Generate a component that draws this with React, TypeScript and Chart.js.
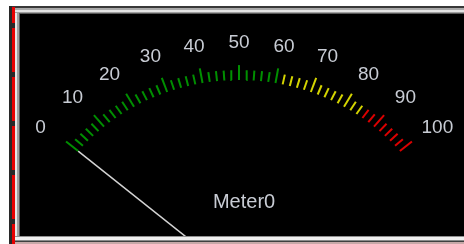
import React, { useEffect, useRef } from 'react';
import { Chart, registerables } from 'chart.js';

Chart.register(...registerables);

// ---- data ----
const scaleMin = 0;
const scaleMax = 100;
const minorStep = 2;
const majorStep = 10;
const labelValues = [0, 10, 20, 30, 40, 50, 60, 70, 80, 90, 100];
const tickLabels = ['0', '10', '20', '30', '40', '50', '60', '70', '80', '90', '100'];
const zoneEnds = [60, 85, 100];
const zoneColors = ['#008f00', '#d4d400', '#dc0000'];
const needleValue = 0;
const meterName = 'Meter0';

// ---- geometry (data space: unit = inner tick radius) ----
const SWEEP_DEG = 100;
const MINOR_LEN = 1.05;
const MAJOR_LEN = 1.075;
const LABEL_RX = 1.233;
const LABEL_RY = 1.186;
const LABEL_COLOR = '#c8ccd4';

function angleOf(v: number) {
  return (((v - scaleMin) / (scaleMax - scaleMin)) - 0.5) * SWEEP_DEG * Math.PI / 180;
}
function polar(v: number, rx: number, ry: number) {
  const a = angleOf(v);
  return { x: rx * Math.sin(a), y: ry * Math.cos(a) };
}
function zoneColor(v: number) {
  for (let i = 0; i < zoneEnds.length; i++) if (v <= zoneEnds[i]) return zoneColors[i];
  return zoneColors[zoneColors.length - 1];
}

const textPlugin = {
  id: 'meterText',
  afterDatasetsDraw(chart: any) {
    const { ctx, scales } = chart;
    const xs = scales.x;
    const ys = scales.y;
    ctx.save();
    ctx.fillStyle = LABEL_COLOR;
    ctx.textAlign = 'center';
    ctx.textBaseline = 'middle';
    ctx.font = '19px "Liberation Sans", Arial, sans-serif';
    labelValues.forEach((v, i) => {
      const p = polar(v, LABEL_RX, LABEL_RY);
      ctx.fillText(tickLabels[i], xs.getPixelForValue(p.x), ys.getPixelForValue(p.y));
    });
    ctx.font = '20px "Liberation Sans", Arial, sans-serif';
    ctx.fillText(meterName, xs.getPixelForValue(0.024), ys.getPixelForValue(0.387));
    ctx.restore();
  },
};

function MeterChart() {
  const ref = useRef<HTMLCanvasElement>(null);
  useEffect(() => {
    if (!ref.current) return;
    const datasets: any[] = [];
    for (let v = scaleMin; v <= scaleMax; v += minorStep) {
      const isMajor = v % majorStep === 0;
      const len = isMajor ? MAJOR_LEN : MINOR_LEN;
      datasets.push({
        data: [polar(v, 1, 1), polar(v, len, len)],
        showLine: true,
        borderColor: zoneColor(v),
        borderWidth: 2,
        pointRadius: 0,
      });
    }
    datasets.push({
      data: [{ x: 0, y: 0 }, polar(needleValue, 1, 1)],
      showLine: true,
      borderColor: '#d4d4d4',
      borderWidth: 1.5,
      pointRadius: 0,
    });
    const chart = new Chart(ref.current, {
      type: 'scatter',
      data: { datasets },
      options: {
        animation: false,
        responsive: false,
        maintainAspectRatio: false,
        devicePixelRatio: 1,
        layout: { padding: 0 },
        events: [],
        plugins: { legend: { display: false }, tooltip: { enabled: false }, title: { display: false } },
        scales: {
          x: { type: 'linear', min: -1.042857, max: 1.071429, display: false },
          y: { type: 'linear', min: 0.21608, max: 1.331658, display: false },
        },
      },
      plugins: [textPlugin],
    });
    return () => chart.destroy();
  }, []);
  return (
    <canvas
      ref={ref}
      width={444}
      height={222}
      style={{ position: 'absolute', left: 20, top: 14, width: 444, height: 222, background: '#000' }}
    />
  );
}

export default function App() {
  const abs = (s: any) => ({ position: 'absolute' as const, ...s });
  return (
    <div style={{ position: 'fixed', left: 0, top: 0, width: 464, height: 244, background: '#fff', overflow: 'hidden' }}>
      <div style={abs({ left: 9, top: 6, right: 0, height: 2, background: '#383838' })} />
      <div style={abs({ left: 9, top: 6, width: 3, bottom: 0, background: '#282828' })} />
      <div
        style={abs({
          left: 12, top: 7, width: 3, bottom: 0,
          backgroundImage: 'linear-gradient(to bottom, #e80000 0px, #e80000 44px, #282828 44px, #282828 49px)',
          backgroundSize: '100% 49px',
          backgroundPosition: '0 -28px',
        })}
      />
      <div
        style={abs({
          left: 15, top: 8, right: 0, height: 6,
          background: 'linear-gradient(to bottom, #a8a8a8 0px, #a8a8a8 2px, #e4e4e4 2px, #e4e4e4 4px, #a0a0a0 4px, #a0a0a0 5px, #585858 5px)',
        })}
      />
      <div
        style={abs({
          left: 15, top: 13, width: 5, bottom: 0,
          background: 'linear-gradient(to right, #e4e4e4 0px, #e4e4e4 2px, #a0a0a0 2px, #a0a0a0 4px, #585858 4px)',
        })}
      />
      <div
        style={abs({
          left: 15, top: 236, right: 0, height: 8,
          background: 'linear-gradient(to bottom, #909090 0px, #909090 1px, #f0f0f0 1px, #f0f0f0 4px, #8a8a8a 4px, #8a8a8a 5px, #404040 5px, #404040 6px, #c8a8a8 6px)',
        })}
      />
      <MeterChart />
    </div>
  );
}
